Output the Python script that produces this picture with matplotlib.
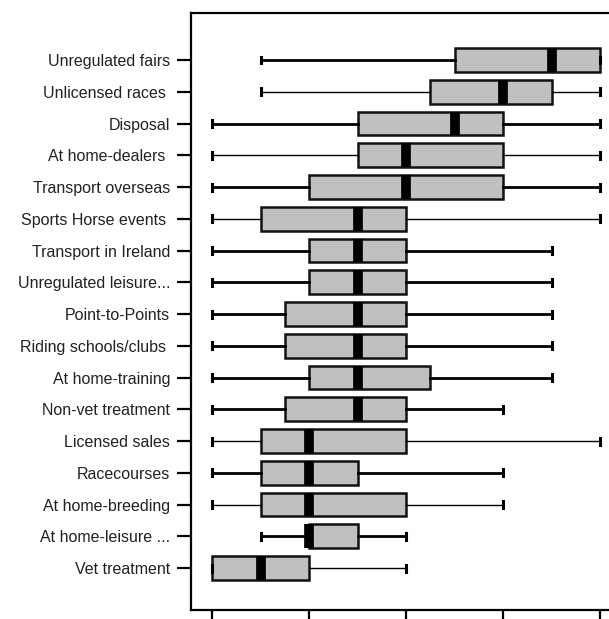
import matplotlib.pyplot as plt

# categorias (de cima para baixo) e estatisticas de cada caixa
categorias = ["Unregulated fairs", "Unlicensed races ", "Disposal", "At home-dealers ",
              "Transport overseas", "Sports Horse events ", "Transport in Ireland",
              "Unregulated leisure...", "Point-to-Points", "Riding schools/clubs ",
              "At home-training", "Non-vet treatment", "Licensed sales", "Racecourses",
              "At home-breeding", "At home-leisure ...", "Vet treatment"]
minimo  = [1.5, 1.5, 1, 1, 1, 1, 1, 1, 1, 1, 1, 1, 1, 1, 1, 1.5, 1]
q1      = [3.5, 3.25, 2.5, 2.5, 2, 1.5, 2, 2, 1.75, 1.75, 2, 1.75, 1.5, 1.5, 1.5, 2, 1]
mediana = [4.5, 4, 3.5, 3, 3, 2.5, 2.5, 2.5, 2.5, 2.5, 2.5, 2.5, 2, 2, 2, 2, 1.5]
q3      = [5, 4.5, 4, 4, 4, 3, 3, 3, 3, 3, 3.25, 3, 3, 2.5, 3, 2.5, 2]
maximo  = [5, 5, 5, 5, 5, 5, 4.5, 4.5, 4.5, 4.5, 4.5, 4, 5, 4, 4, 3, 3]

# linhas finas em algumas caixas (como no original)
finas = {"Unlicensed races ", "At home-dealers ", "Sports Horse events ",
         "Licensed sales", "At home-breeding", "Vet treatment"}

plt.rcParams['font.family'] = ['Liberation Sans', 'DejaVu Sans']

fig = plt.figure(figsize=(6.09, 6.19), dpi=100)
ax = fig.add_axes([191 / 609, 9 / 619, 418 / 609, 1 - 22 / 619])

posicoes = list(range(1, len(categorias) + 1))
for i, nome in enumerate(categorias):
    stats = [{"med": mediana[i], "q1": q1[i], "q3": q3[i],
              "whislo": minimo[i], "whishi": maximo[i], "fliers": []}]
    lw = 1.0 if nome in finas else 2.0
    ax.bxp(stats, positions=[posicoes[i]], vert=False, widths=0.75,
           patch_artist=True, showfliers=False, capwidths=0.22,
           boxprops=dict(facecolor="#c0c0c0", edgecolor="#111111", linewidth=1.8),
           whiskerprops=dict(color="black", linewidth=lw),
           capprops=dict(color="black", linewidth=2.2),
           medianprops=dict(color="black", linewidth=7, solid_capstyle="butt"))

ax.set_xlim(0.7835, 0.7835 + 418 / 97)
ax.set_ylim(len(categorias) + 1.32, 1 - 1.48)
ax.set_yticks(posicoes)
ax.set_yticklabels(categorias, fontsize=11.5, color="#222222")
ax.set_xticks([1, 2, 3, 4, 5])
ax.set_xticklabels([])

ax.tick_params(axis="y", length=10, width=1.6, pad=5)
ax.tick_params(axis="x", length=10, width=1.6)
for lado in ["left", "top", "bottom"]:
    ax.spines[lado].set_linewidth(1.6)
ax.spines["right"].set_visible(False)

fig.savefig("out.png", dpi=100)
